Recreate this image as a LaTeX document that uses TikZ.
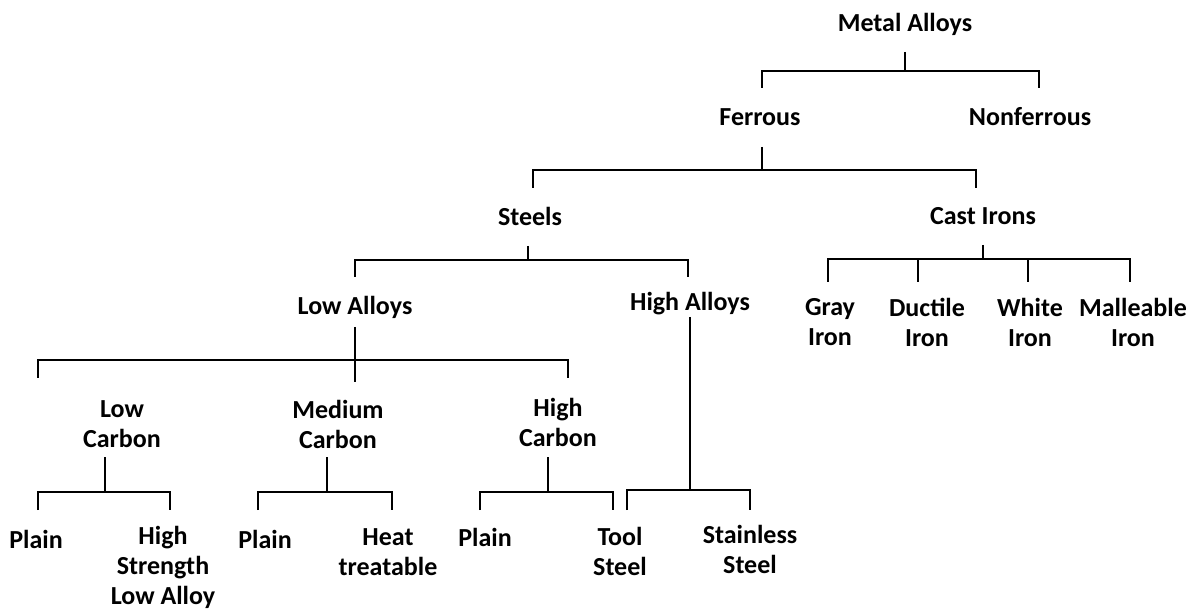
\documentclass[tikz,border=0pt]{standalone}
\usepackage{fontspec}
\setmainfont{Carlito}
\tikzset{
  lbl/.style={font=\bfseries\fontsize{26}{30}\selectfont, align=center, inner sep=0pt},
  link/.style={line width=2.6pt}
}
\begin{document}
\begin{tikzpicture}[x=1pt,y=-1pt]
    \useasboundingbox (0,0) rectangle (1192,612);
    % Top levels
    \node[lbl] (metal) at (905,24) {Metal Alloys};
    \node[lbl] (ferrous) at (760,117) {Ferrous};
    \node[lbl] (nonferrous) at (1030,117) {Nonferrous};
    \node[lbl] (steels) at (530,216) {Steels};
    \node[lbl] (castirons) at (983,216) {Cast Irons};
    % Steels
    \node[lbl] (lowalloys) at (355,307) {Low Alloys};
    \node[lbl] (highalloys) at (690,304) {High Alloys};
    \node[lbl] (lowcarbon) at (122,424) {Low\\Carbon};
    \node[lbl] (medcarbon) at (338,424) {Medium\\Carbon};
    \node[lbl] (highcarbon) at (558,422) {High\\Carbon};
    % Cast irons
    \node[lbl] (gray) at (830,322) {Gray\\Iron};
    \node[lbl] (ductile) at (927,322) {Ductile\\Iron};
    \node[lbl] (white) at (1030,322) {White\\Iron};
    \node[lbl] (malleable) at (1133,322) {Malleable\\Iron};
    % Leaves
    \node[lbl] (lcplain) at (36,539) {Plain};
    \node[lbl] (hsla) at (163,567) {High\\Strength\\Low Alloy};
    \node[lbl] (mcplain) at (265,539) {Plain};
    \node[lbl] (heat) at (388,552) {Heat\\treatable};
    \node[lbl] (hcplain) at (485,537) {Plain};
    \node[lbl] (tool) at (620,551) {Tool\\Steel};
    \node[lbl] (stainless) at (750,549) {Stainless\\Steel};
    % Metal Alloys
    \draw[link] (metal |- 0,52) -- (metal |- 0,71);
    \draw[link] ([xshift=2]ferrous |- 0,88) |- ([xshift=9]nonferrous |- 0,71) -- ([xshift=9]nonferrous |- 0,88);
    % Ferrous
    \draw[link] ([xshift=2]ferrous |- 0,147) -- ([xshift=2]ferrous |- 0,170);
    \draw[link] ([xshift=3]steels |- 0,188) |- ([xshift=-7]castirons |- 0,170) -- ([xshift=-7]castirons |- 0,188);
    % Steels
    \draw[link] ([xshift=-2]steels |- 0,246) -- ([xshift=-2]steels |- 0,260);
    \draw[link] (lowalloys |- 0,277) |- ([xshift=-2]highalloys |- 0,260) -- ([xshift=-2]highalloys |- 0,277);
    % Cast Irons
    \draw[link] (castirons |- 0,245) -- (castirons |- 0,259);
    \draw[link] ([xshift=-2]gray |- 0,282) |- ([xshift=-3]malleable |- 0,259) -- ([xshift=-3]malleable |- 0,282);
    \draw[link] ([xshift=-9]ductile |- 0,259) -- ([xshift=-9]ductile |- 0,282);
    \draw[link] ([xshift=-2]white |- 0,259) -- ([xshift=-2]white |- 0,282);
    % Low Alloys
    \draw[link] (lowalloys |- 0,327) -- (lowalloys |- 0,382);
    \draw[link] ([xshift=-84]lowcarbon |- 0,378) |- ([xshift=10]highcarbon |- 0,360) -- ([xshift=10]highcarbon |- 0,378);
    % High Alloys
    \draw[link] (highalloys |- 0,317) -- (highalloys |- 0,490);
    \draw[link] ([xshift=7]tool |- 0,510) |- (stainless |- 0,490) -- (stainless |- 0,510);
    % Low Carbon
    \draw[link] ([xshift=-17]lowcarbon |- 0,457) -- ([xshift=-17]lowcarbon |- 0,492);
    \draw[link] ([xshift=2]lcplain |- 0,510) |- ([xshift=7]hsla |- 0,492) -- ([xshift=7]hsla |- 0,510);
    % Medium Carbon
    \draw[link] ([xshift=-11]medcarbon |- 0,457) -- ([xshift=-11]medcarbon |- 0,492);
    \draw[link] ([xshift=-7]mcplain |- 0,510) |- ([xshift=4]heat |- 0,492) -- ([xshift=4]heat |- 0,510);
    % High Carbon
    \draw[link] ([xshift=-10]highcarbon |- 0,457) -- ([xshift=-10]highcarbon |- 0,492);
    \draw[link] ([xshift=-5]hcplain |- 0,510) |- ([xshift=-7]tool |- 0,492) -- ([xshift=-7]tool |- 0,510);
  \end{tikzpicture}
\end{document}
